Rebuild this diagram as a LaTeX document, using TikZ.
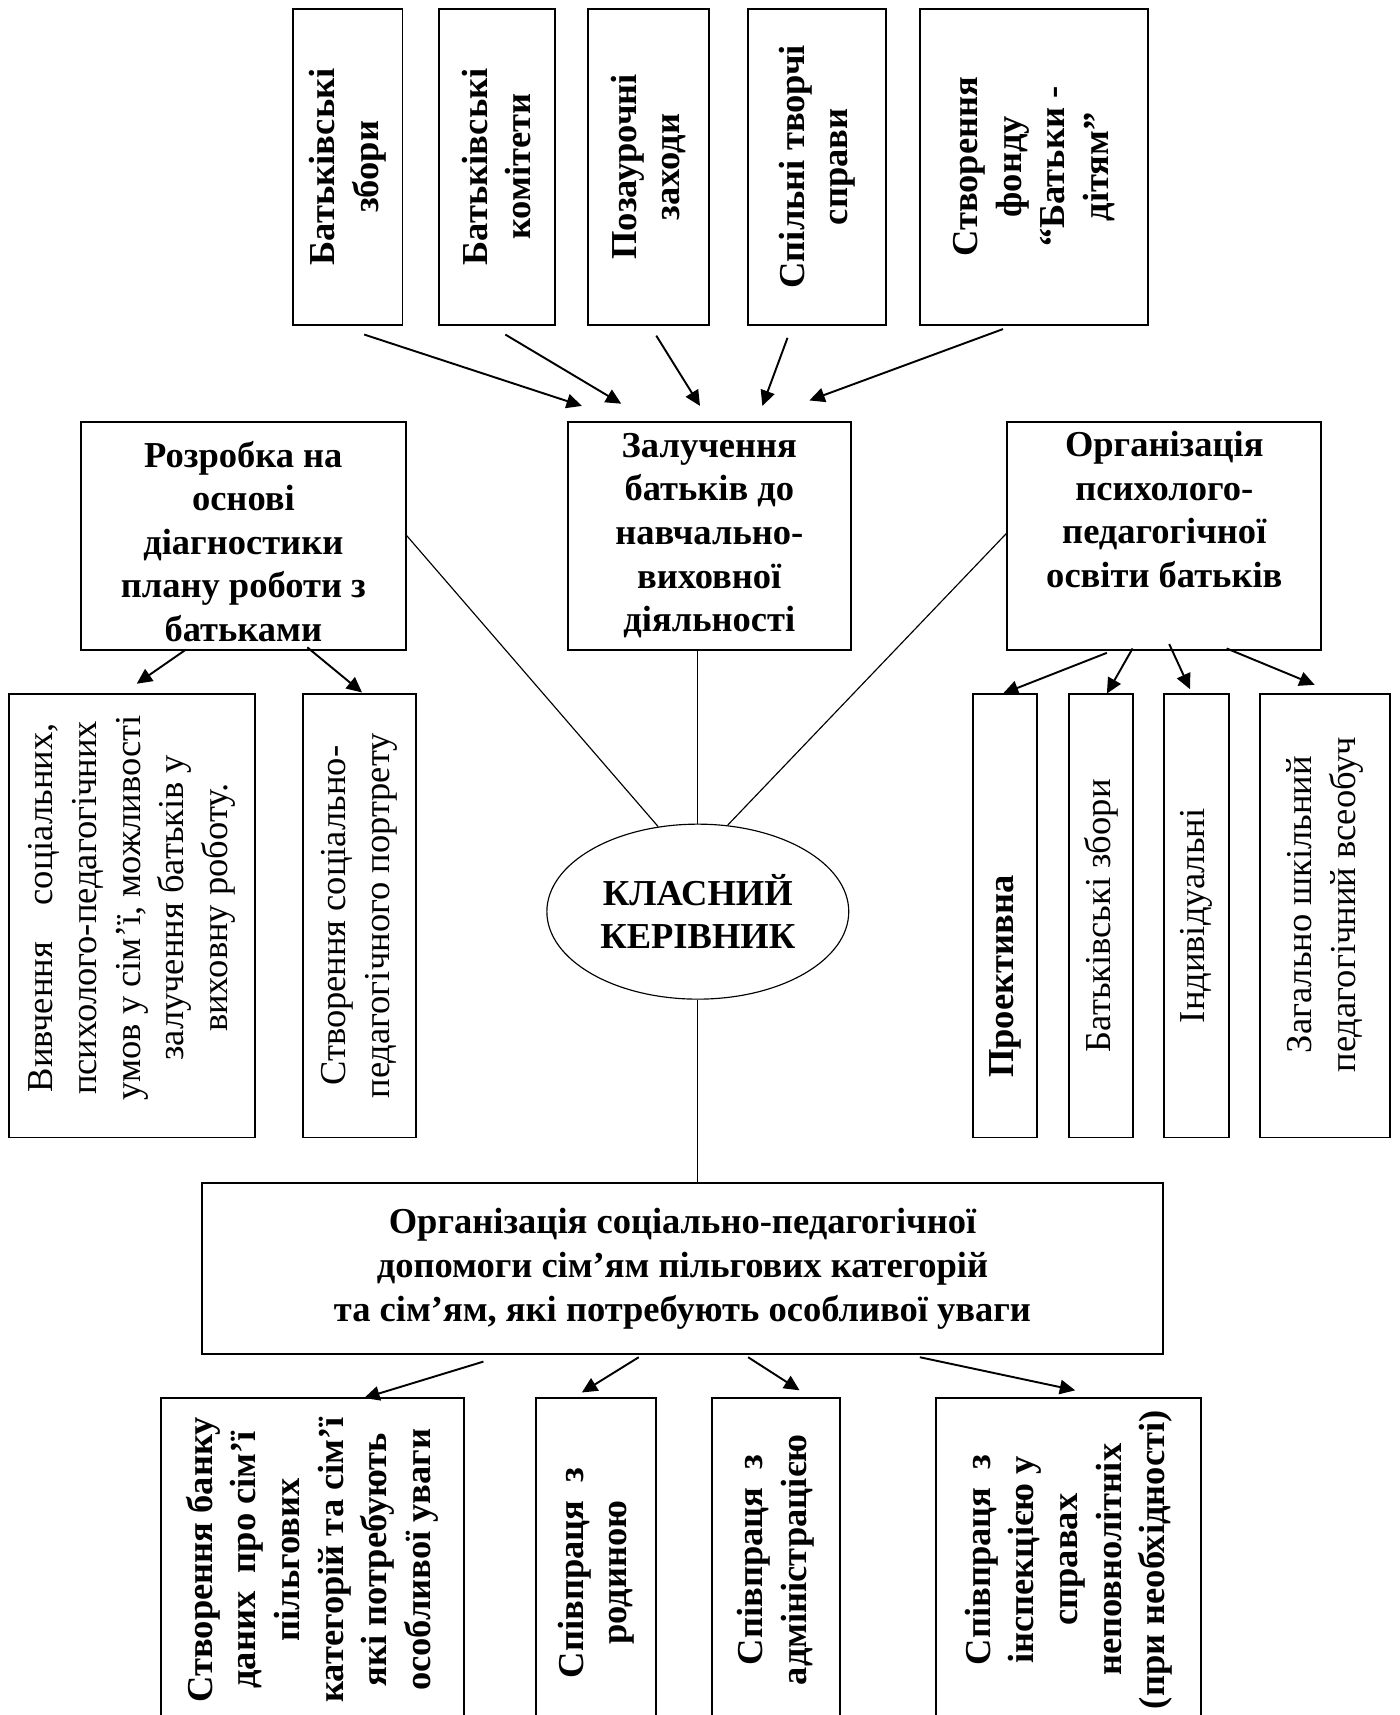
\documentclass[tikz,border=0pt]{standalone}
\usepackage{fontspec}
\setmainfont{Liberation Serif}
\usetikzlibrary{arrows.meta,shapes.geometric,calc}
\begin{document}
\begin{tikzpicture}[x=0.02cm, y=-0.02cm,
  bx/.style 2 args={draw, line width=1pt, minimum width=#1*0.02cm, minimum height=#2*0.02cm, inner sep=0pt},
  bt/.style={font=\fontsize{19}{22.7}\selectfont\bfseries, align=center, inner sep=0pt},
  nt/.style={font=\fontsize{19}{22.7}\selectfont, align=center, inner sep=0pt},
  vt/.style={rotate=90},
  arr/.style={line width=1pt, -{Triangle[length=8pt,width=7.5pt]}},
  ln/.style={line width=0.6pt}]
\path[use as bounding box, fill=white] (0,0) rectangle (1280,1568);

% top row
\node[bx={100}{289}] (b1) at (318,152.5) {};
\node[bt,vt] (b1t) at (b1) {Батьківські\\збори};
\node[bx={106}{289}] (b2) at (454,152.5) {};
\node[bt,vt] (b2t) at (b2) {Батьківські\\комітети};
\node[bx={110}{289}] (b3) at (593,152.5) {};
\node[bt,vt] (b3t) at (b3) {Позаурочні\\заходи};
\node[bx={126}{289}] (b4) at (747,152.5) {};
\node[bt,vt] (b4t) at (b4) {Спільні творчі\\справи};
\node[bx={209}{289}] (b5) at (945.5,152.5) {};
\node[bt,vt] (b5t) at (b5) {Створення\\фонду\\“Батьки -\\дітям”};

% middle row
\node[bx={297}{208.5}] (roz) at (222.5,489.75) {};
\node[bt] (rozt) at (222.5,495) {Розробка на\\основі\\діагностики\\плану роботи з\\батьками};
\node[bx={259}{208.5}] (zal) at (648.5,489.75) {};
\node[bt] (zalt) at (zal) {Залучення\\батьків до\\навчально-\\виховної\\діяльності};
\node[bx={287}{208.5}] (org) at (1064.5,489.75) {};
\node[bt] (orgt) at (1064.5,466) {Організація\\психолого-\\педагогічної\\освіти батьків};

% centre
\node[ellipse, draw, line width=0.6pt, minimum width=276*0.02cm, minimum height=160*0.02cm,
      inner sep=0pt, align=center, font=\fontsize{19}{22.7}\selectfont\bfseries] (ell) at (638,833.5) {КЛАСНИЙ\\КЕРІВНИК};

% left children
\node[bx={224.5}{405.5}] (lc1) at (120.75,837.25) {};
\node[nt,vt] (lc1t) at (120.75,830) {\makebox[192pt][s]{Вивчення соціальних,}\\психолого-педагогічних\\умов у сім’ї, можливості\\залучення батьків у\\виховну роботу.};
\node[bx={103}{405.5}] (lc2) at (328.5,837.25) {};
\node[nt,vt] (lc2t) at (lc2) {Створення соціально-\\педагогічного портрету};

% right children
\node[bx={58}{405.5}] (pr) at (919,837.25) {};
\node[bt,vt] (prt) at (919,893) {Проективна};
\node[bx={59}{405.5}] (bz) at (1006.5,837.25) {};
\node[nt,vt] (bzt) at (bz) {Батьківські збори};
\node[bx={60}{405.5}] (ind) at (1094,837.25) {};
\node[nt,vt] (indt) at (ind) {Індивідуальні};
\node[bx={119}{405.5}] (zag) at (1211.5,837.25) {};
\node[nt,vt] (zagt) at (1211.5,827) {Загально шкільний\\педагогічний всеобуч};

% bottom box
\node[bx={878}{156}] (bot) at (624,1160) {};
\node[bt] (bott) at (bot) {Організація соціально-педагогічної\\допомоги сім’ям пільгових категорій\\та сім’ям, які потребують особливої уваги};

% bottom children
\node[bx={277}{296}] (ca) at (285.5,1426) {};
\node[bt,vt] (cat) at (ca) {Створення банку\\даних\ \ про сім’ї\\пільгових\\категорій та сім’ї\\які потребують\\особливої уваги};
\node[bx={110}{296}] (cb) at (545,1426) {};
\node[bt,vt] (cbt) at (545,1438) {Співпраця\ \ з\\родиною};
\node[bx={117}{296}] (cc) at (709.5,1426) {};
\node[bt,vt] (cct) at (cc) {Співпраця\ \ з\\адміністрацією};
\node[bx={242}{296}] (cd) at (977,1426) {};
\node[bt,vt] (cdt) at (cd) {Співпраця\ \ з\\інспекцією у\\справах\\неповнолітніх\\(при необхідності)};

% thin connectors
\draw[ln] (roz.east) -- (ell.115);
\draw[ln] (zal.south -| ell.north) -- (ell.north);
\draw[ln] ([shift={(0,-2)}]org.west) -- (ell.71);
\draw[ln] (ell.south) -- (bot.north -| ell.south);

% arrows top
\draw[arr] ([shift={(15,8)}]b1.south) -- ([shift={(-116.5,-13.5)}]zal.north);
\draw[arr] ([shift={(8,8)}]b2.south) -- ([shift={(-80.5,-15.5)}]zal.north);
\draw[arr] ([shift={(7,9)}]b3.south) -- ([shift={(-8.5,-13.5)}]zal.north);
\draw[arr] ([shift={(-27,11)}]b4.south) -- ([shift={(48.5,-13.5)}]zal.north);
\draw[arr] ([shift={(-28.5,3)}]b5.south) -- ([shift={(91.5,-18.5)}]zal.north);
% arrows left
\draw[arr] ([shift={(-52.5,-1)}]roz.south) -- ([shift={(4.25,-8.5)}]lc1.north);
\draw[arr] ([shift={(58.5,-3)}]roz.south) -- ([shift={(2.5,-0.5)}]lc2.north);
% arrows right
\draw[arr] ([shift={(-52.5,2)}]org.south) -- ([shift={(-2,0.5)}]pr.north);
\draw[arr] ([shift={(-29,-2)}]org.south) -- ([shift={(5.5,0.5)}]bz.north);
\draw[arr] ([shift={(4.5,-6)}]org.south) -- ([shift={(-6,-3.5)}]ind.north);
\draw[arr] ([shift={(57,-2)}]org.south) -- ([shift={(-9.5,-7.5)}]zag.north);
% arrows bottom
\draw[arr] ([shift={(-182,6)}]bot.south) -- ([shift={(47.5,1)}]ca.north);
\draw[arr] ([shift={(-40,2)}]bot.south) -- ([shift={(-13,-4)}]cb.north);
\draw[arr] ([shift={(60,2)}]bot.south) -- ([shift={(21.5,-6)}]cc.north);
\draw[arr] ([shift={(217,2)}]bot.south) -- ([shift={(6,-6)}]cd.north);
\end{tikzpicture}
\end{document}
